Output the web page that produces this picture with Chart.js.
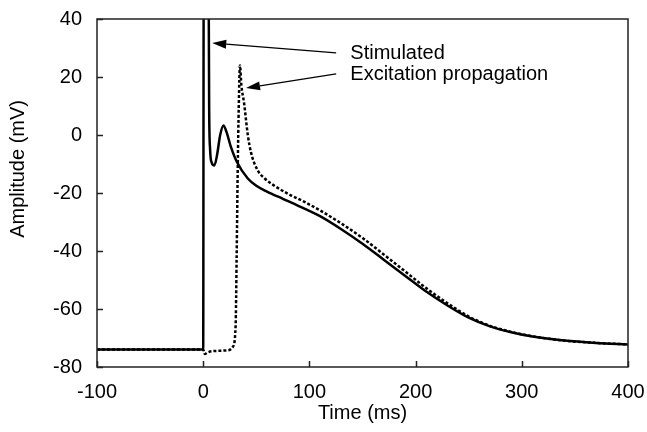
<!DOCTYPE html>
<html>
<head>
<meta charset="utf-8">
<script src="https://cdn.jsdelivr.net/npm/chart.js@4"></script>
<style>
  html, body { margin: 0; padding: 0; background: #fff; }
</style>
</head>
<body>
<canvas id="chart" width="647" height="432"></canvas>
<script>
// stimulated cell (solid)
const stimT = [-100, 0, 0.5, 5, 5.6, 6.5, 8, 10.5, 13, 16, 19, 22, 26, 32, 42, 50, 60, 75, 90, 110, 130, 150, 170, 190, 210, 230, 250, 270, 290, 310, 340, 370, 400];
const stimV = [-74, -74, 60, 60, 10, -5, -9.5, -10.5, -7, 0, 3.3, 1, -4, -9.5, -15, -17.5, -19.5, -22, -24.5, -28, -32.5, -37.5, -43, -48.5, -54, -58.8, -63, -66, -68, -69.5, -70.9, -71.7, -72.2];
// propagated excitation (dashed)
const propT = [-100, 0, 1.5, 4, 10, 24, 28, 30.5, 31.5, 32.5, 33.5, 34.6, 36, 38.5, 42, 45, 51, 58, 67, 80, 95, 110, 130, 150, 170, 190, 210, 230, 250, 270, 290, 310, 340, 370, 400];
const propV = [-74, -74, -75.5, -75, -74.5, -74.2, -73, -66, -42, -12, 10, 24, 17, 11, 0, -6, -12, -15, -17.5, -20.3, -23, -26, -30.5, -35.5, -41.2, -47, -52.8, -58, -62.6, -65.8, -67.9, -69.4, -70.9, -71.7, -72.2];

const xTicks = [-100, 0, 100, 200, 300, 400];
const yTicks = [-80, -60, -40, -20, 0, 20, 40];

const notes = [
  { text: 'Stimulated', x: 138.5, y: 26.2, from: [125.2, 28.3], to: [8.5, 31.7] },
  { text: 'Excitation propagation', x: 138.5, y: 19.0, from: [125.2, 21.1], to: [40.3, 16.2] }
];

const font = '"Liberation Sans", Arial, sans-serif';
const toPts = (t, v) => t.map((x, i) => ({ x, y: v[i] }));

const frame = {
  id: 'frame',
  afterDraw(chart) {
    const { ctx, chartArea: a, scales: { x, y } } = chart;
    ctx.save();
    ctx.strokeStyle = '#222';
    ctx.lineWidth = 1.5;
    ctx.strokeRect(a.left, a.top, a.right - a.left, a.bottom - a.top);
    // inward ticks
    ctx.beginPath();
    xTicks.forEach(t => {
      const px = Math.round(x.getPixelForValue(t)) + 0.5;
      ctx.moveTo(px, a.bottom);
      ctx.lineTo(px, a.bottom - 6);
    });
    yTicks.forEach(t => {
      const py = Math.round(y.getPixelForValue(t)) + 0.5;
      ctx.moveTo(a.left, py);
      ctx.lineTo(a.left + 6, py);
    });
    ctx.stroke();

    // y axis title
    ctx.fillStyle = '#000';
    ctx.font = '20px ' + font;
    ctx.textAlign = 'center';
    ctx.textBaseline = 'middle';
    ctx.translate(18, y.getPixelForValue(-11.7));
    ctx.rotate(-Math.PI / 2);
    ctx.fillText('Amplitude (mV)', 0, 0);
    ctx.restore();

    // annotations
    ctx.save();
    ctx.fillStyle = '#000';
    ctx.strokeStyle = '#000';
    ctx.lineWidth = 1.2;
    ctx.font = '20px ' + font;
    ctx.textAlign = 'left';
    ctx.textBaseline = 'alphabetic';
    notes.forEach(n => {
      ctx.fillText(n.text, x.getPixelForValue(n.x), y.getPixelForValue(n.y));
      const x0 = x.getPixelForValue(n.from[0]), y0 = y.getPixelForValue(n.from[1]);
      const x1 = x.getPixelForValue(n.to[0]), y1 = y.getPixelForValue(n.to[1]);
      const ang = Math.atan2(y1 - y0, x1 - x0);
      const len = 14, half = 4.5;
      const bx = x1 - len * Math.cos(ang), by = y1 - len * Math.sin(ang);
      ctx.beginPath();
      ctx.moveTo(x0, y0);
      ctx.lineTo(bx, by);
      ctx.stroke();
      ctx.beginPath();
      ctx.moveTo(x1, y1);
      ctx.lineTo(bx + half * Math.sin(ang), by - half * Math.cos(ang));
      ctx.lineTo(bx - half * Math.sin(ang), by + half * Math.cos(ang));
      ctx.closePath();
      ctx.fill();
    });
    ctx.restore();
  }
};

new Chart(document.getElementById('chart'), {
  type: 'line',
  data: {
    datasets: [
      {
        label: 'Stimulated',
        data: toPts(stimT, stimV),
        borderColor: '#000',
        borderWidth: 2.5,
        pointRadius: 0,
        cubicInterpolationMode: 'monotone'
      },
      {
        label: 'Excitation propagation',
        data: toPts(propT, propV),
        borderColor: '#000',
        borderWidth: 2.5,
        borderDash: [3, 2],
        pointRadius: 0,
        cubicInterpolationMode: 'monotone'
      }
    ]
  },
  options: {
    responsive: false,
    animation: false,
    layout: { padding: { top: 19, right: 19, left: 0, bottom: 0 } },
    plugins: { legend: { display: false }, tooltip: { enabled: false } },
    scales: {
      x: {
        type: 'linear',
        min: -100,
        max: 400,
        afterFit: (s) => { s.height = 65; s.paddingLeft = 0; s.paddingRight = 0; },
        afterBuildTicks: (s) => { s.ticks = xTicks.map(v => ({ value: v })); },
        grid: { display: false },
        border: { display: false },
        ticks: { color: '#000', font: { family: font, size: 20 }, padding: 5, maxRotation: 0 },
        title: { display: true, text: 'Time (ms)', color: '#000', font: { family: font, size: 20 }, padding: { top: 2, bottom: 7 } }
      },
      y: {
        min: -80,
        max: 40,
        afterFit: (s) => { s.width = 97; },
        afterBuildTicks: (s) => { s.ticks = yTicks.map(v => ({ value: v })); },
        grid: { display: false },
        border: { display: false },
        ticks: { color: '#000', font: { family: font, size: 20 }, padding: 7 }
      }
    }
  },
  plugins: [frame]
});
</script>
</body>
</html>
